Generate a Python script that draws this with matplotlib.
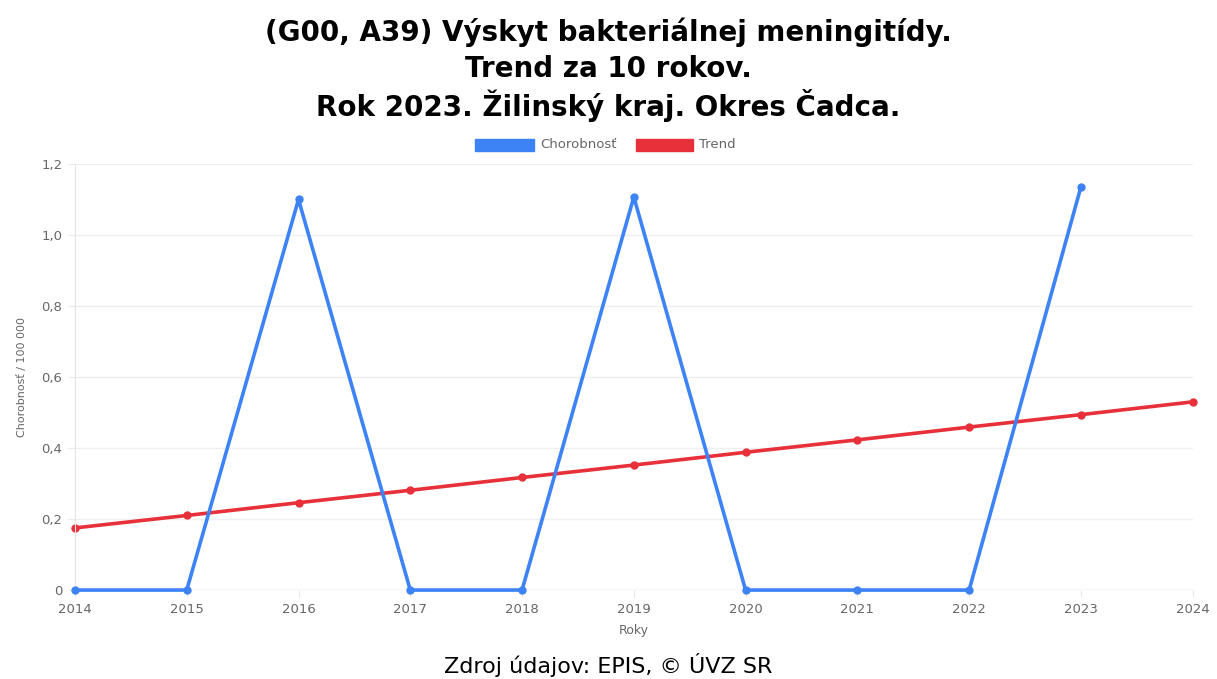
import matplotlib.pyplot as plt
from matplotlib.patches import Rectangle

years = [2014, 2015, 2016, 2017, 2018, 2019, 2020, 2021, 2022, 2023]
chorobnost = [0, 0, 1.10, 0, 0, 1.107, 0, 0, 0, 1.135]
trend_years = [2014, 2015, 2016, 2017, 2018, 2019, 2020, 2021, 2022, 2023, 2024]
trend = [0.175, 0.210, 0.246, 0.281, 0.317, 0.352, 0.388, 0.423, 0.459, 0.494, 0.530]
yticks = [0, 0.2, 0.4, 0.6, 0.8, 1.0, 1.2]
ytick_labels = ['0', '0,2', '0,4', '0,6', '0,8', '1,0', '1,2']

blue = '#3d83f5'
red = '#e8303a'
grey = '#666666'

fig = plt.figure(figsize=(12.17, 6.79), dpi=100)
ax = fig.add_axes([0.0616, 0.131, 0.9184, 0.6275])

ax.plot(years, chorobnost, color=blue, lw=2.6, marker='o', ms=5, zorder=3, clip_on=False)
ax.plot(trend_years, trend, color=red, lw=2.6, marker='o', ms=5, zorder=2, clip_on=False)

ax.set_xlim(2014, 2024)
ax.set_ylim(0, 1.2)
ax.set_xticks(trend_years)
ax.set_xticklabels([str(y) for y in trend_years], fontsize=9.5, color=grey)
ax.set_yticks(yticks)
ax.set_yticklabels(ytick_labels, fontsize=9.5, color=grey)
ax.tick_params(length=5, color='#e8e8e8', pad=4)
ax.grid(True, axis='y', color='#efefef', lw=1)
for s in ax.spines.values():
    s.set_visible(False)
ax.spines['left'].set_visible(True)
ax.spines['left'].set_color('#e4e4e4')
ax.axhline(0, color='#dddddd', lw=1, zorder=1)

ax.set_xlabel('Roky', fontsize=9, color=grey, labelpad=6)
ax.set_ylabel('Chorobnosť / 100 000', fontsize=8, color=grey, labelpad=10)

title_lines = ['(G00, A39) Výskyt bakteriálnej meningitídy.',
               'Trend za 10 rokov.',
               'Rok 2023. Žilinský kraj. Okres Čadca.']
for yy, line in zip([0.953, 0.898, 0.845], title_lines):
    fig.text(0.5, yy, line, ha='center', va='center',
             fontsize=20, fontweight='bold', family='DejaVu Sans')

# legend
ly = 1 - 145 / 679
fig.patches.append(Rectangle((475 / 1217, ly - 6 / 679), 59 / 1217, 12 / 679,
                             color=blue, transform=fig.transFigure))
fig.text(540 / 1217, ly, 'Chorobnosť', fontsize=9.5, color=grey, va='center')
fig.patches.append(Rectangle((636 / 1217, ly - 6 / 679), 57 / 1217, 12 / 679,
                             color=red, transform=fig.transFigure))
fig.text(699 / 1217, ly, 'Trend', fontsize=9.5, color=grey, va='center')

fig.text(0.5, 1 - 665 / 679, 'Zdroj údajov: EPIS, © ÚVZ SR', ha='center', va='center',
         fontsize=16, family='DejaVu Sans')

fig.savefig('out.png', dpi=100)
